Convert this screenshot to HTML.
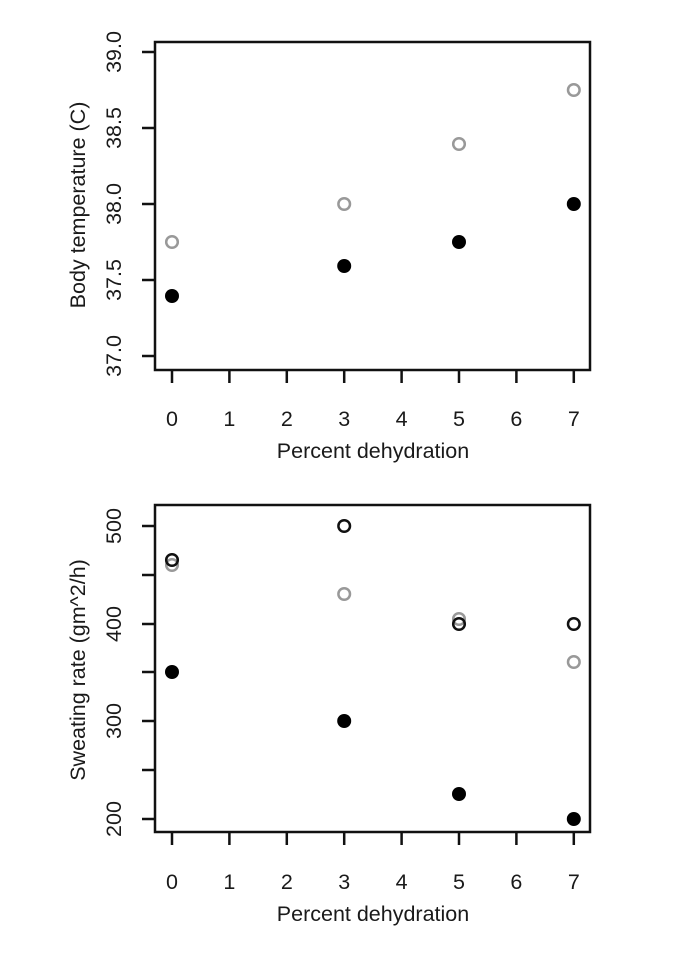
<!DOCTYPE html>
<html><head><style>body{margin:0;background:#fff}svg{display:block}text{font-family:"Liberation Sans",sans-serif;fill:#1a1a1a}</style></head><body>
<svg width="676" height="960" viewBox="0 0 676 960">
<g stroke="#111" stroke-width="2.5" fill="none">
<rect x="155" y="42" width="435" height="328"/>
<path d="M142 52H155M142 128H155M142 204H155M142 280H155M142 356H155"/>
<path d="M172 370v13M229.4 370v13M286.8 370v13M344.2 370v13M401.6 370v13M459 370v13M516.4 370v13M573.8 370v13"/>
<rect x="155" y="505" width="435" height="327"/>
<path d="M142 526H155M142 575H155M142 624H155M142 672H155M142 721H155M142 770H155M142 819H155"/>
<path d="M172 832v13M229.4 832v13M286.8 832v13M344.2 832v13M401.6 832v13M459 832v13M516.4 832v13M573.8 832v13"/>
</g>
<g font-size="21.5" text-anchor="middle">
<text transform="translate(121,52) rotate(-90)">39.0</text>
<text transform="translate(121,128) rotate(-90)">38.5</text>
<text transform="translate(121,204) rotate(-90)">38.0</text>
<text transform="translate(121,280) rotate(-90)">37.5</text>
<text transform="translate(121,356) rotate(-90)">37.0</text>
<text transform="translate(85,205) rotate(-90)">Body temperature (C)</text>
<text transform="translate(121,526) rotate(-90)">500</text>
<text transform="translate(121,624) rotate(-90)">400</text>
<text transform="translate(121,721) rotate(-90)">300</text>
<text transform="translate(121,819) rotate(-90)">200</text>
<text transform="translate(85,670) rotate(-90)">Sweating rate (gm^2/h)</text>
<text x="172" y="426">0</text><text x="229.4" y="426">1</text><text x="286.8" y="426">2</text><text x="344.2" y="426">3</text><text x="401.6" y="426">4</text><text x="459" y="426">5</text><text x="516.4" y="426">6</text><text x="573.8" y="426">7</text>
<text x="373" y="458">Percent dehydration</text>
<text x="172" y="889">0</text><text x="229.4" y="889">1</text><text x="286.8" y="889">2</text><text x="344.2" y="889">3</text><text x="401.6" y="889">4</text><text x="459" y="889">5</text><text x="516.4" y="889">6</text><text x="573.8" y="889">7</text>
<text x="373" y="921">Percent dehydration</text>
</g>
<g fill="none" stroke="#999" stroke-width="2.5">
<circle cx="172" cy="242" r="5.8"/><circle cx="344.2" cy="204" r="5.8"/><circle cx="459" cy="144" r="5.8"/><circle cx="573.8" cy="90" r="5.8"/>
<circle cx="172" cy="565" r="5.8"/><circle cx="344.2" cy="594" r="5.8"/><circle cx="459" cy="619" r="5.8"/><circle cx="573.8" cy="662" r="5.8"/>
</g>
<g fill="none" stroke="#111" stroke-width="2.5">
<circle cx="172" cy="560" r="5.8"/><circle cx="344.2" cy="526" r="5.8"/><circle cx="459" cy="624" r="5.8"/><circle cx="573.8" cy="624" r="5.8"/>
</g>
<g fill="#000">
<circle cx="172" cy="296" r="7"/><circle cx="344.2" cy="266" r="7"/><circle cx="459" cy="242" r="7"/><circle cx="573.8" cy="204" r="7"/>
<circle cx="172" cy="672" r="7"/><circle cx="344.2" cy="721" r="7"/><circle cx="459" cy="794" r="7"/><circle cx="573.8" cy="819" r="7"/>
</g>
</svg>
</body></html>
